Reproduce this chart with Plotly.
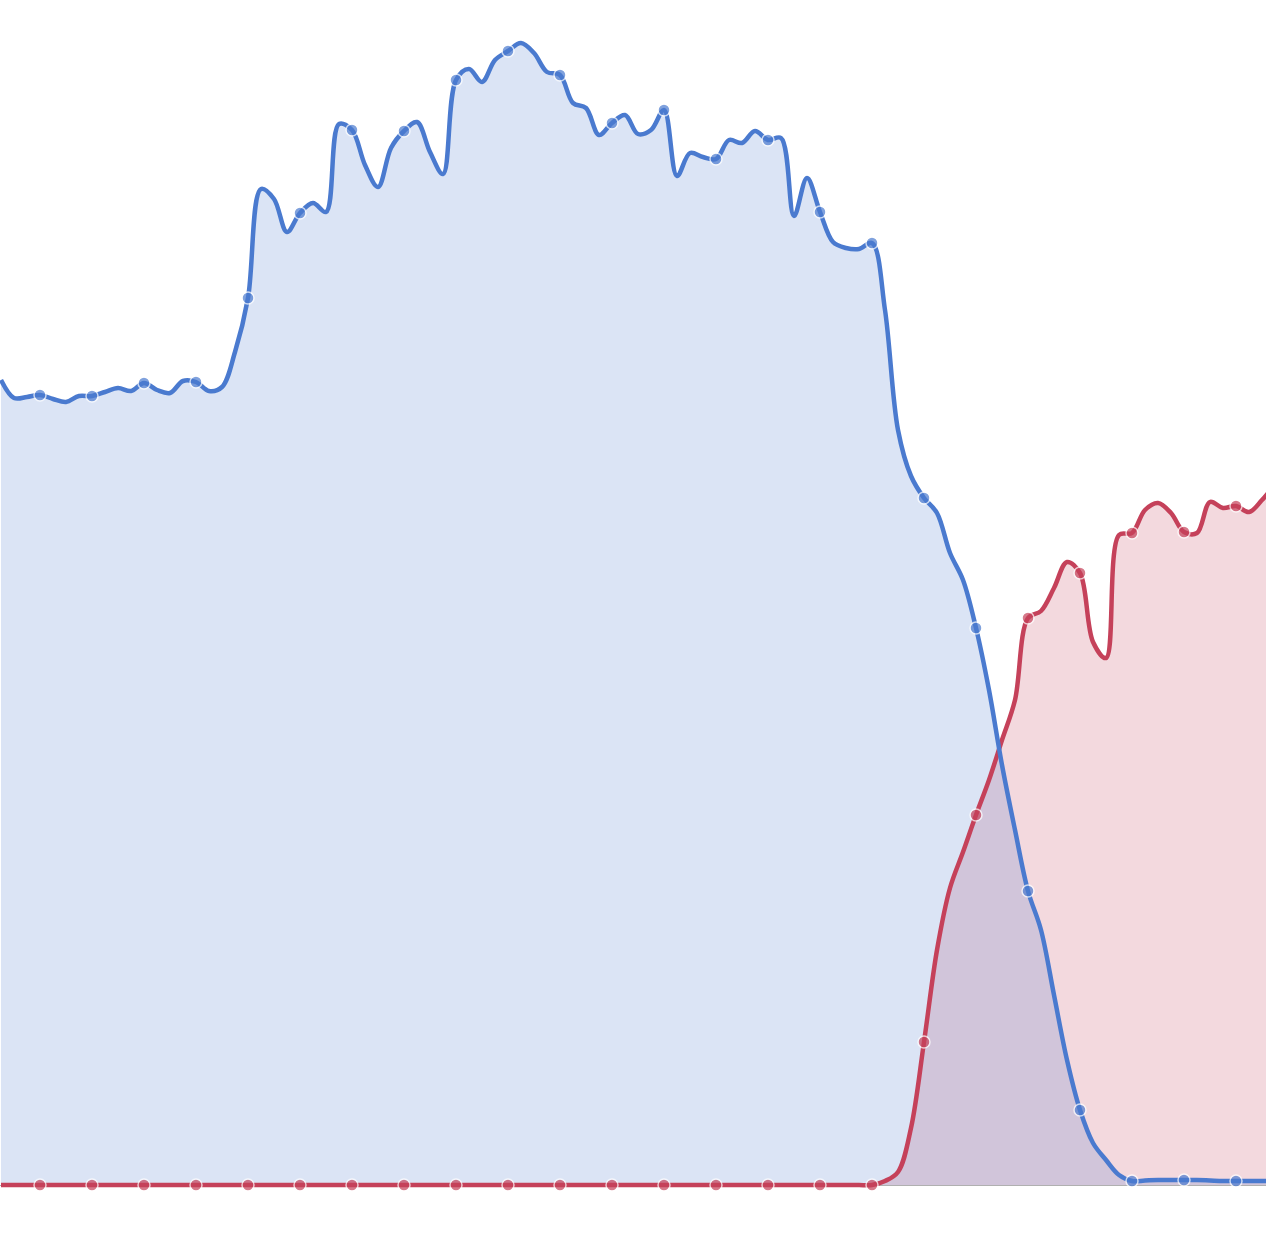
import plotly.graph_objects as go

# sample index (dense series); markers shown on every 4th sample
idx = list(range(99))

blue_values = [
    80.5, 78.7, 78.8, 79.0, 78.6, 78.3, 78.9, 78.9, 79.3, 79.7,
    79.4, 80.2, 79.5, 79.2, 80.4, 80.3, 79.4, 79.8, 83.3, 88.7,
    99.6, 98.6, 95.3, 97.2, 98.2, 97.3, 106.1, 105.5, 102.0, 99.8,
    103.7, 105.4, 106.3, 103.3, 101.1, 110.5, 111.6, 110.3, 112.5, 113.4,
    114.2, 113.2, 111.3, 111.0, 108.2, 107.7, 105.0, 106.2, 107.0, 105.1,
    105.5, 107.5, 100.9, 103.2, 102.8, 102.6, 104.5, 104.2, 105.4, 104.5,
    104.7, 96.9, 100.7, 97.3, 94.3, 93.7, 93.6, 94.2, 87.5, 75.5,
    70.9, 68.7, 67.2, 63.2, 60.5, 55.7, 49.5, 42.0, 35.5, 29.4,
    25.5, 19.0, 12.5, 7.5, 4.2, 2.5, 1.0, 0.4, 0.45, 0.5,
    0.5, 0.5, 0.5, 0.45, 0.4, 0.4, 0.4, 0.4, 0.4,
]

red_values = [0.0] * 68 + [
    0.4, 1.3, 5.7, 14.3, 23.5, 29.7, 33.3, 37.0, 40.5, 44.5,
    48.5, 56.7, 57.4, 59.7, 62.3, 61.2, 54.3, 52.7, 65.0, 65.2,
    67.5, 68.2, 67.2, 65.3, 65.2, 68.3, 67.7, 67.9, 67.3, 68.5,
    70.1,
]

BLUE = "#4a7acf"
RED = "#c5415a"

marker_size = [12 if i % 4 == 3 else 0 for i in idx]
marker_lw = [1.5 if i % 4 == 3 else 0 for i in idx]

series = [
    (red_values, RED, "rgba(197,65,90,0.2)"),
    (blue_values, BLUE, "rgba(74,122,207,0.2)"),
]

fig = go.Figure()
# fills first
for vals, col, fillcol in series:
    fig.add_trace(go.Scatter(
        x=idx, y=vals, mode="lines",
        line=dict(color="rgba(0,0,0,0)", width=0, shape="spline", smoothing=1),
        fill="tozeroy", fillcolor=fillcol,
        showlegend=False, hoverinfo="skip",
    ))
# lines and markers on top
for vals, col, fillcol in series:
    fig.add_trace(go.Scatter(
        x=idx, y=vals, mode="lines+markers",
        line=dict(color=col, width=4.5, shape="spline", smoothing=1),
        marker=dict(color=col, size=marker_size,
                    line=dict(color="white", width=marker_lw)),
        cliponaxis=False, showlegend=False, hoverinfo="skip",
    ))

fig.update_layout(
    width=1266, height=1243,
    margin=dict(l=0, r=0, t=0, b=54),
    paper_bgcolor="white", plot_bgcolor="white",
    xaxis=dict(range=[-1 / 13, -1 / 13 + 1266 / 13], showgrid=False,
               zeroline=False, showticklabels=False, ticks="", showline=False),
    yaxis=dict(range=[-0.4, 118.5], showgrid=False, zeroline=True,
               zerolinecolor="#b0b0b0", zerolinewidth=1,
               showticklabels=False, ticks="", showline=False),
)

fig.write_html(
    "out.html",
    config={"displayModeBar": False},
    post_script="document.body.style.margin='0';document.body.style.overflow='hidden';",
)
